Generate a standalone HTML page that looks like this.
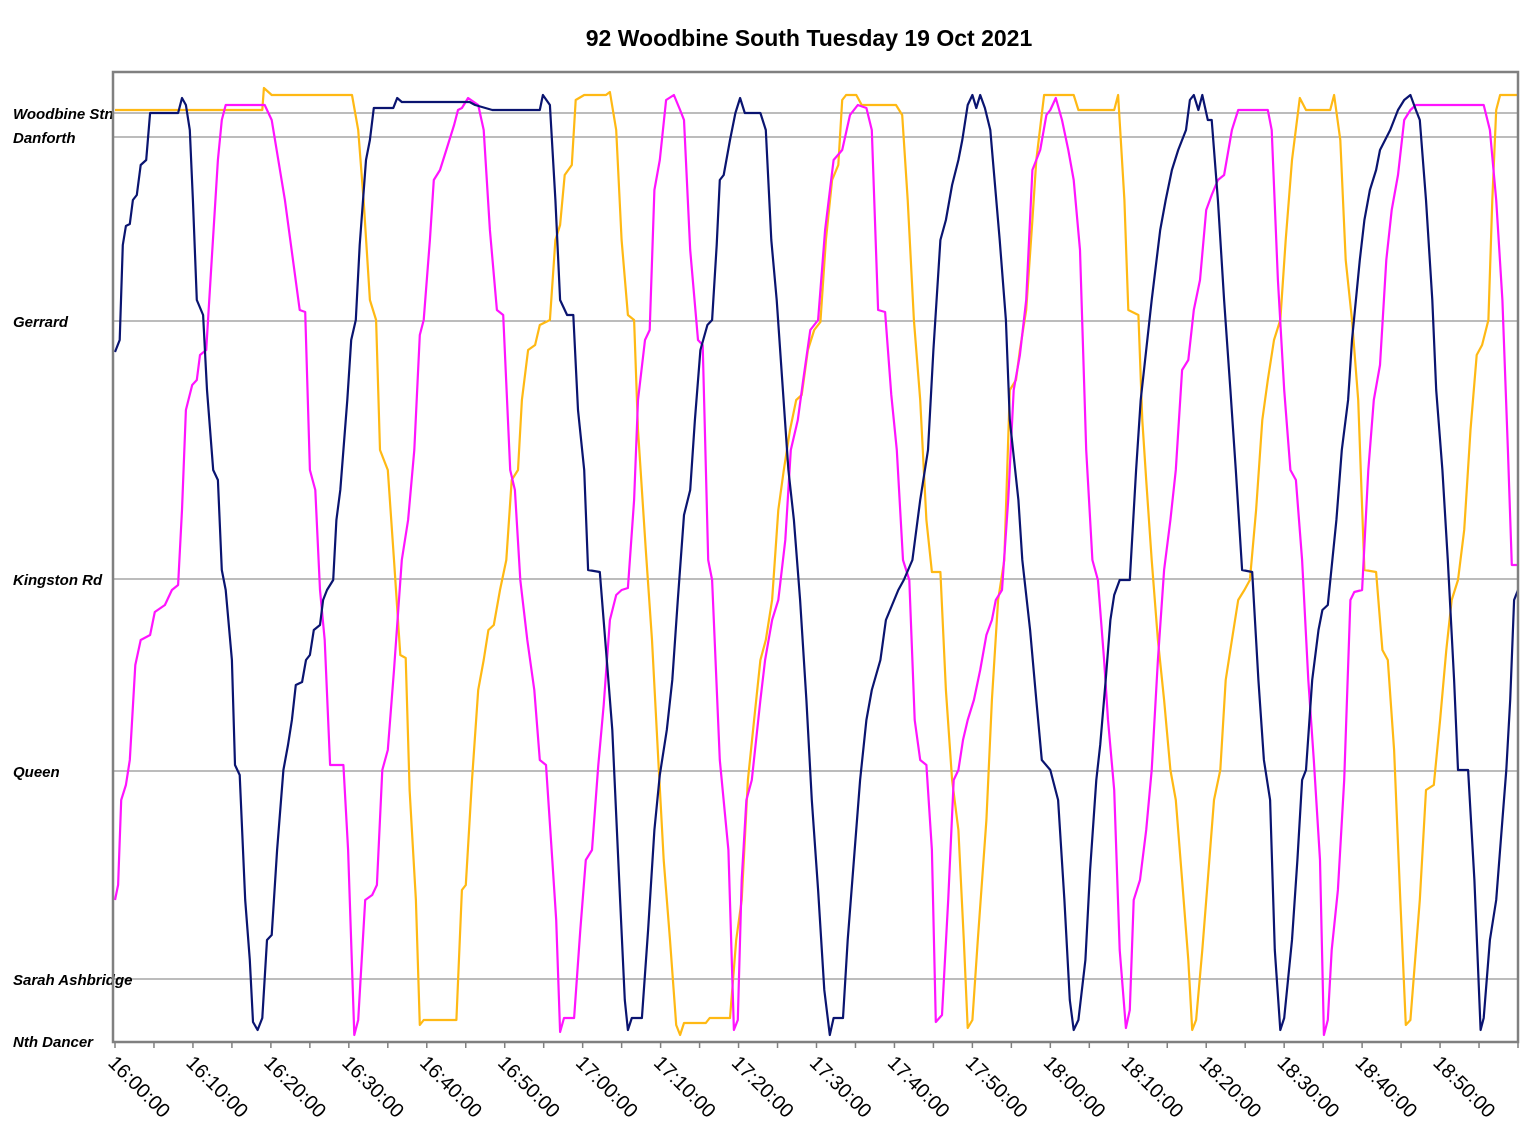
<!DOCTYPE html>
<html>
<head>
<meta charset="utf-8">
<style>
  html, body { margin: 0; padding: 0; background: #ffffff; }
  body { width: 1540px; height: 1134px; overflow: hidden; }
  svg { display: block; font-family: "Liberation Sans", Arial, sans-serif; }
</style>
</head>
<body>
<svg id="chart" width="1540" height="1134" viewBox="0 0 1540 1134" xmlns="http://www.w3.org/2000/svg">
  <text x="809" y="46" text-anchor="middle" font-size="23" font-weight="bold" fill="#000">92 Woodbine South Tuesday 19 Oct 2021</text>
  <g id="grid"></g>
  <g id="ylabels"></g>
  <g id="series"></g>
  <rect x="113" y="72" width="1405" height="970" fill="none" stroke="#808080" stroke-width="2.5"/>
  <g id="xaxis"></g>
</svg>
<script>
// ---- data: minutes after 16:00, distance units from Nth Dancer ----
const stopNames = ["Woodbine Stn", "Danforth", "Gerrard", "Kingston Rd", "Queen", "Sarah Ashbridge", "Nth Dancer"];
const stopDist = [928, 904, 720, 462, 270, 62, 0];
const tickLabels = ["16:00:00","16:10:00","16:20:00","16:30:00","16:40:00","16:50:00","17:00:00","17:10:00","17:20:00","17:30:00","17:40:00","17:50:00","18:00:00","18:10:00","18:20:00","18:30:00","18:40:00","18:50:00"];
const tickMinutes = [0,10,20,30,40,50,60,70,80,90,100,110,120,130,140,150,160,170];

const busNavy = [[0,689],[0.6,701],[1.0,796],[1.4,815],[1.9,817],[2.3,841],[2.8,846],[3.3,876],[4.0,881],[4.5,928],[8.1,928],[8.6,943],[9.1,936],[9.6,911],[10.0,841],[10.5,741],[11.3,726],[11.8,651],[12.6,571],[13.2,561],[13.7,471],[14.2,451],[15.0,381],[15.4,276],[16.0,266],[16.7,141],[17.3,81],[17.7,19],[18.3,11],[18.9,23],[19.5,101],[20.1,106],[20.8,191],[21.6,271],[22.2,296],[22.7,321],[23.2,356],[24.0,359],[24.5,381],[25.0,386],[25.5,411],[26.3,416],[26.7,441],[27.2,451],[28.0,461],[28.4,521],[28.9,551],[29.8,641],[30.3,701],[30.9,721],[31.4,796],[32.2,881],[32.7,901],[33.2,933],[35.7,933],[36.2,943],[36.8,939],[45.5,939],[46.2,936],[48.4,931],[54.5,931],[54.9,946],[55.8,936],[56.5,841],[57.1,741],[58.0,726],[58.8,726],[59.4,631],[60.2,571],[60.7,471],[62.2,469],[63.0,391],[63.8,311],[64.8,141],[65.4,41],[65.8,11],[66.3,23],[67.6,23],[68.4,111],[69.2,211],[69.9,266],[70.8,311],[71.5,361],[72.2,441],[73.0,526],[73.8,551],[74.4,621],[75.1,691],[76.0,716],[76.6,721],[77.2,796],[77.6,861],[78.1,866],[78.9,901],[79.6,928],[80.2,943],[80.8,928],[82.8,928],[83.5,911],[84.2,801],[84.9,741],[85.6,661],[86.4,571],[87.1,521],[87.9,441],[88.7,341],[89.4,241],[90.2,151],[91.0,51],[91.7,6],[92.2,23],[93.4,23],[94.0,101],[94.8,181],[95.6,261],[96.4,321],[97.1,351],[98.2,381],[98.9,421],[99.7,436],[100.5,451],[101.2,461],[102.3,481],[103.3,541],[104.3,591],[105.0,691],[105.9,801],[106.6,821],[107.4,856],[108.2,881],[108.7,901],[109.4,936],[110.0,946],[110.5,933],[111.0,946],[111.6,933],[112.3,911],[113.5,801],[114.3,721],[114.8,621],[115.9,541],[116.4,481],[117.4,411],[118.2,341],[118.9,281],[120.0,271],[121.0,241],[121.8,141],[122.5,41],[123.0,11],[123.6,21],[124.5,81],[125.1,171],[125.9,261],[126.4,296],[127.1,361],[127.7,421],[128.2,446],[128.9,461],[130.2,461],[131.0,571],[131.6,641],[132.3,691],[133.0,741],[134.1,811],[134.8,841],[135.6,871],[136.4,891],[137.4,911],[137.9,941],[138.4,946],[139.0,931],[139.5,946],[140.2,921],[140.7,921],[141.5,841],[142.3,741],[143.1,651],[143.8,571],[144.6,471],[145.9,469],[146.7,361],[147.4,281],[148.2,241],[148.8,91],[149.5,11],[150.0,23],[151.0,101],[151.7,181],[152.3,261],[152.8,271],[153.6,361],[154.4,411],[154.9,431],[155.6,436],[156.7,521],[157.4,591],[158.2,641],[158.7,701],[159.7,781],[160.3,821],[161.0,851],[161.8,871],[162.3,891],[163.6,911],[164.6,931],[165.4,941],[166.2,946],[166.9,931],[167.4,921],[168.2,841],[169.0,741],[169.5,651],[170.3,571],[171.0,481],[171.8,361],[172.3,271],[173.6,271],[174.4,161],[175.2,11],[175.6,23],[176.4,101],[177.2,141],[178.0,221],[178.5,271],[179.0,341],[179.5,441],[180.0,451]];

const busMagenta = [[0,141],[0.4,156],[0.8,241],[1.4,256],[1.9,281],[2.6,376],[3.3,401],[4.5,406],[5.1,429],[6.4,436],[7.3,451],[8.1,456],[8.6,531],[9.1,631],[9.9,656],[10.5,661],[10.9,686],[11.7,691],[12.4,781],[13.2,881],[13.7,921],[14.2,936],[19.2,936],[20.1,921],[21.8,841],[23.7,731],[24.4,729],[25.0,571],[25.7,551],[26.3,451],[26.9,401],[27.6,276],[29.3,276],[29.9,191],[30.7,6],[31.2,21],[32.1,141],[33.0,146],[33.6,156],[34.3,271],[35.0,291],[35.8,371],[36.8,481],[37.6,521],[38.4,591],[39.1,706],[39.6,721],[40.4,801],[40.9,861],[41.7,871],[42.5,891],[43.5,916],[44.0,931],[44.5,933],[45.3,943],[46.6,936],[47.3,911],[48.1,811],[49.0,731],[49.8,726],[50.7,571],[51.3,551],[52.0,461],[52.9,401],[53.8,351],[54.5,281],[55.3,276],[56.1,181],[56.6,121],[57.1,9],[57.6,23],[58.9,23],[59.7,111],[60.4,181],[61.2,191],[62.0,276],[62.7,336],[63.5,421],[64.3,446],[65.0,451],[65.8,453],[66.6,541],[67.1,641],[68.0,701],[68.6,711],[69.2,851],[69.9,881],[70.7,941],[71.7,946],[72.5,931],[73.0,921],[73.8,791],[74.8,701],[75.4,696],[76.1,481],[76.6,461],[77.6,281],[78.7,191],[79.4,11],[79.9,21],[80.4,161],[81.0,241],[81.7,261],[82.8,341],[83.4,381],[84.3,421],[85.1,441],[86.0,501],[86.7,591],[87.6,621],[88.3,661],[89.2,711],[90.2,721],[91.1,811],[92.2,881],[93.3,891],[94.3,926],[95.3,936],[96.4,933],[97.1,911],[97.9,731],[98.8,729],[99.6,646],[100.3,591],[101.1,481],[101.9,461],[102.6,321],[103.3,281],[104.1,276],[104.8,191],[105.3,19],[106.1,26],[106.9,141],[107.6,261],[108.2,271],[108.8,301],[109.4,321],[110.2,341],[111.0,371],[111.8,406],[112.5,421],[113.0,441],[113.8,451],[114.6,541],[115.3,651],[116.1,686],[116.9,741],[117.7,871],[118.7,891],[119.5,926],[120.0,931],[120.7,943],[121.5,921],[122.3,891],[123.0,861],[123.8,791],[124.6,591],[125.4,481],[126.1,461],[126.9,381],[127.4,321],[128.2,251],[128.9,91],[129.7,13],[130.2,31],[130.7,141],[131.5,161],[132.3,211],[133.0,271],[133.8,381],[134.6,471],[135.4,521],[136.1,571],[136.9,671],[137.7,681],[138.4,731],[139.2,761],[140.0,831],[140.7,846],[141.5,861],[142.3,866],[143.3,911],[144.1,931],[147.9,931],[148.4,911],[149.2,761],[150.0,651],[150.8,571],[151.5,561],[152.3,481],[153.1,361],[153.8,281],[154.6,181],[155.1,6],[155.6,21],[156.1,91],[156.9,151],[157.7,261],[158.5,441],[159.0,449],[160.0,451],[160.8,571],[161.5,641],[162.3,676],[163.1,781],[163.8,831],[164.6,866],[165.4,921],[166.2,931],[166.9,936],[175.6,936],[176.4,911],[177.2,841],[178.0,741],[178.7,591],[179.2,476],[180.0,476]];

const busOrange = [[0,931],[18.9,931],[19.1,953],[20.1,946],[30.4,946],[31.2,911],[31.9,841],[32.7,741],[33.5,721],[34.0,591],[35.0,571],[35.8,481],[36.6,386],[37.3,383],[37.8,251],[38.6,141],[39.1,16],[39.6,21],[43.8,21],[44.5,151],[45.0,156],[45.8,261],[46.6,351],[47.3,381],[47.9,411],[48.6,416],[49.4,451],[50.2,481],[50.9,561],[51.7,571],[52.2,641],[53.0,691],[53.9,696],[54.5,716],[55.8,721],[56.5,801],[57.1,816],[57.7,866],[58.6,876],[59.1,941],[60.2,946],[63.0,946],[63.5,949],[64.3,911],[65.0,801],[65.8,726],[66.6,721],[67.1,611],[68.1,491],[68.9,401],[69.7,281],[70.4,181],[71.2,101],[72.0,16],[72.5,6],[73.0,18],[75.8,18],[76.3,23],[78.9,23],[79.7,101],[80.4,141],[81.2,261],[82.0,321],[82.8,381],[83.5,401],[84.3,441],[85.1,531],[85.8,571],[86.6,611],[87.4,641],[88.1,646],[88.9,691],[89.7,711],[90.5,719],[91.2,801],[92.0,861],[92.8,876],[93.3,941],[93.8,946],[95.1,946],[95.8,936],[100.2,936],[101.0,926],[101.7,841],[102.5,721],[103.3,641],[104.1,521],[104.8,469],[105.9,469],[106.6,351],[107.4,261],[108.2,211],[108.9,101],[109.4,13],[110.0,21],[110.7,101],[111.8,221],[112.5,341],[113.3,441],[114.1,481],[114.8,651],[115.6,661],[116.1,691],[116.9,731],[117.7,821],[118.2,881],[119.2,946],[123.0,946],[123.6,931],[128.2,931],[128.7,946],[129.5,841],[130.0,731],[131.3,726],[131.8,621],[132.3,561],[133.0,481],[133.8,401],[134.6,341],[135.4,271],[136.1,241],[136.9,161],[137.7,81],[138.2,11],[138.7,21],[139.5,91],[140.2,161],[141.0,241],[141.8,271],[142.5,361],[143.3,401],[144.1,441],[144.9,451],[145.6,461],[146.4,531],[147.2,621],[147.9,661],[148.7,701],[149.5,721],[150.2,801],[151.0,881],[152.0,943],[152.8,931],[155.9,931],[156.4,946],[157.2,901],[157.9,781],[158.7,721],[159.5,641],[160.3,471],[161.8,469],[162.6,391],[163.3,381],[164.1,291],[164.9,141],[165.6,16],[166.2,21],[166.9,91],[167.4,141],[168.2,251],[169.2,256],[170.0,321],[170.8,391],[171.5,441],[172.3,461],[173.1,511],[173.9,611],[174.7,686],[175.4,696],[176.2,721],[176.7,841],[177.2,931],[177.7,946],[180.0,946]];

// ---- axes ----
const NS = "http://www.w3.org/2000/svg";
const X0 = 115, X1 = 1518, T0 = 0, T1 = 180;
const Y0 = 1041, PXPERUNIT = 1;
function xScale(t) { return X0 + (t - T0) / (T1 - T0) * (X1 - X0); }
function yScale(d) { return Y0 - d * PXPERUNIT; }

const grid = document.getElementById('grid');
const ylabels = document.getElementById('ylabels');
stopNames.forEach((name, i) => {
  const y = yScale(stopDist[i]);
  if (stopDist[i] > 0) {
    const ln = document.createElementNS(NS, 'line');
    
    
    ln.setAttribute('x1', 113); ln.setAttribute('x2', 1518);
    ln.setAttribute('y1', y); ln.setAttribute('y2', y);
    ln.setAttribute('stroke', '#7a7a7a'); ln.setAttribute('stroke-width', '0.9');
    grid.appendChild(ln);
  }
  const tx = document.createElementNS(NS, 'text');
  
  
  tx.setAttribute('x', 13);
  tx.setAttribute('y', y + 6);
  tx.setAttribute('font-size', '15');
  tx.setAttribute('font-weight', 'bold');
  tx.setAttribute('font-style', 'italic');
  tx.setAttribute('fill', '#000');
  tx.textContent = name;
  ylabels.appendChild(tx);
});

const xaxis = document.getElementById('xaxis');
for (let m = 0; m <= 180; m += 5) {
  const tk = document.createElementNS(NS, 'line');
  
  
  const x = xScale(m);
  tk.setAttribute('x1', x); tk.setAttribute('x2', x);
  tk.setAttribute('y1', 1042); tk.setAttribute('y2', 1048);
  tk.setAttribute('stroke', '#808080'); tk.setAttribute('stroke-width', '1.5');
  xaxis.appendChild(tk);
}
tickLabels.forEach((lab, i) => {
  const x = xScale(tickMinutes[i]) - 8;
  const y = 1064;
  const tx = document.createElementNS(NS, 'text');
  
  
  tx.setAttribute('x', x); tx.setAttribute('y', y);
  tx.setAttribute('font-size', '20');
  tx.setAttribute('fill', '#000');
  tx.setAttribute('transform', 'rotate(45 ' + x + ' ' + y + ')');
  tx.textContent = lab;
  xaxis.appendChild(tx);
});

// ---- series ----
const seriesG = document.getElementById('series');
function drawRun(data, color, name) {
  const p = document.createElementNS(NS, 'polyline');
  
  
  p.setAttribute('points', data.map(pt => xScale(pt[0]).toFixed(1) + ',' + yScale(pt[1]).toFixed(1)).join(' '));
  p.setAttribute('fill', 'none');
  p.setAttribute('stroke', color);
  p.setAttribute('stroke-width', '2.2');
  p.setAttribute('stroke-linejoin', 'round');
  seriesG.appendChild(p);
}
drawRun(busOrange, '#ffb914', 'bus-run-orange');
drawRun(busMagenta, '#ff14ff', 'bus-run-magenta');
drawRun(busNavy, '#0a1470', 'bus-run-navy');
</script>
</body>
</html>
